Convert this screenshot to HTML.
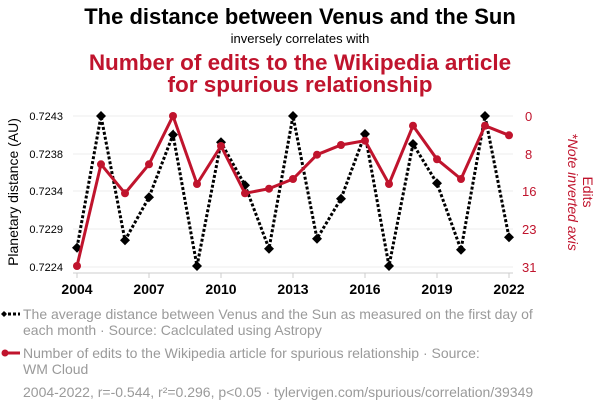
<!DOCTYPE html>
<html><head><style>body{margin:0;background:#fff}</style></head><body>
<svg width="600" height="414" xmlns="http://www.w3.org/2000/svg" font-family="Liberation Sans, sans-serif">
<text x="300" y="24" text-anchor="middle" font-size="22" font-weight="bold" fill="#000">The distance between Venus and the Sun</text>
<text x="300" y="43" text-anchor="middle" font-size="13" fill="#000">inversely correlates with</text>
<text x="300" y="70" text-anchor="middle" font-size="22.5" font-weight="bold" fill="#c0142d">Number of edits to the Wikipedia article</text>
<text x="300" y="92" text-anchor="middle" font-size="22.5" font-weight="bold" fill="#c0142d">for spurious relationship</text>
<g stroke="#eee" stroke-width="1">
<line x1="73" x2="513" y1="116" y2="116"/><line x1="73" x2="513" y1="154" y2="154"/><line x1="73" x2="513" y1="191" y2="191"/><line x1="73" x2="513" y1="229" y2="229"/><line x1="73" x2="513" y1="267" y2="267"/>
</g>
<g stroke="#ccc"><line x1="73" x2="513" y1="273" y2="273"/>
<line x1="77" x2="77" y1="273" y2="278"/><line x1="149" x2="149" y1="273" y2="278"/><line x1="221" x2="221" y1="273" y2="278"/><line x1="293" x2="293" y1="273" y2="278"/><line x1="365" x2="365" y1="273" y2="278"/><line x1="437" x2="437" y1="273" y2="278"/><line x1="509" x2="509" y1="273" y2="278"/></g>
<g font-size="14" font-weight="bold" text-anchor="middle" fill="#000">
<text x="77" y="294">2004</text><text x="149" y="294">2007</text><text x="221" y="294">2010</text><text x="293" y="294">2013</text><text x="365" y="294">2016</text><text x="437" y="294">2019</text><text x="509" y="294">2022</text></g>
<g font-size="11" text-anchor="end" fill="#000">
<text x="63" y="120">0.7243</text><text x="63" y="158">0.7238</text><text x="63" y="195">0.7234</text><text x="63" y="233">0.7229</text><text x="63" y="271">0.7224</text></g>
<g font-size="13" text-anchor="start" fill="#c0142d">
<text x="525" y="121">0</text><text x="525" y="159">8</text><text x="522" y="196">16</text><text x="522" y="234">23</text><text x="522" y="272">31</text></g>
<text transform="translate(18,192) rotate(-90)" text-anchor="middle" font-size="14" fill="#000">Planetary distance (AU)</text>
<text transform="translate(583,192) rotate(90)" text-anchor="middle" font-size="14" fill="#c0142d">Edits</text>
<text transform="translate(568,192) rotate(90)" text-anchor="middle" font-size="14" font-style="italic" fill="#c0142d">*Note inverted axis</text>
<polyline fill="none" stroke="#000" stroke-width="3" stroke-dasharray="3,2" points="77,247.7 101,116 125,240.3 149,197.3 173,134.7 197,266 221,142.3 245,185.3 269,248.7 293,116 317,238.7 341,198.7 365,134 389,266 413,144 437,183.3 461,249.7 485,116 509,237.3"/>
<g fill="#000">
<path d="M77,242.7l5,5l-5,5l-5,-5z"/><path d="M101,111l5,5l-5,5l-5,-5z"/><path d="M125,235.3l5,5l-5,5l-5,-5z"/><path d="M149,192.3l5,5l-5,5l-5,-5z"/><path d="M173,129.7l5,5l-5,5l-5,-5z"/><path d="M197,261l5,5l-5,5l-5,-5z"/><path d="M221,137.3l5,5l-5,5l-5,-5z"/><path d="M245,180.3l5,5l-5,5l-5,-5z"/><path d="M269,243.7l5,5l-5,5l-5,-5z"/><path d="M293,111l5,5l-5,5l-5,-5z"/><path d="M317,233.7l5,5l-5,5l-5,-5z"/><path d="M341,193.7l5,5l-5,5l-5,-5z"/><path d="M365,129l5,5l-5,5l-5,-5z"/><path d="M389,261l5,5l-5,5l-5,-5z"/><path d="M413,139l5,5l-5,5l-5,-5z"/><path d="M437,178.3l5,5l-5,5l-5,-5z"/><path d="M461,244.7l5,5l-5,5l-5,-5z"/><path d="M485,111l5,5l-5,5l-5,-5z"/><path d="M509,232.3l5,5l-5,5l-5,-5z"/>
</g>
<polyline fill="none" stroke="#c0142d" stroke-width="3" points="77,266 101,164.3 125,193.3 149,164.3 173,116 197,184 221,146 245,193.3 269,188.7 293,179 317,154.7 341,145 365,140.7 389,184 413,125.7 437,159.3 461,179 485,125.7 509,135.3"/>
<g fill="#c0142d">
<circle cx="77" cy="266" r="4"/><circle cx="101" cy="164.3" r="4"/><circle cx="125" cy="193.3" r="4"/><circle cx="149" cy="164.3" r="4"/><circle cx="173" cy="116" r="4"/><circle cx="197" cy="184" r="4"/><circle cx="221" cy="146" r="4"/><circle cx="245" cy="193.3" r="4"/><circle cx="269" cy="188.7" r="4"/><circle cx="293" cy="179" r="4"/><circle cx="317" cy="154.7" r="4"/><circle cx="341" cy="145" r="4"/><circle cx="365" cy="140.7" r="4"/><circle cx="389" cy="184" r="4"/><circle cx="413" cy="125.7" r="4"/><circle cx="437" cy="159.3" r="4"/><circle cx="461" cy="179" r="4"/><circle cx="485" cy="125.7" r="4"/><circle cx="509" cy="135.3" r="4"/>
</g>
<line x1="3" x2="20" y1="314" y2="314" stroke="#000" stroke-width="3" stroke-dasharray="3,2"/>
<path d="M4,311l3,3l-3,3l-3,-3z" fill="#000"/>
<line x1="4" x2="20" y1="353" y2="353" stroke="#c0142d" stroke-width="3"/>
<circle cx="5" cy="353" r="3.5" fill="#c0142d"/>
<g font-size="14" fill="#9a9a9a">
<text x="23" y="319">The average distance between Venus and the Sun as measured on the first day of</text>
<text x="23" y="335">each month · Source: Caclculated using Astropy</text>
<text x="23" y="358">Number of edits to the Wikipedia article for spurious relationship · Source:</text>
<text x="23" y="374">WM Cloud</text>
<text x="23" y="397">2004-2022, r=-0.544, r²=0.296, p&lt;0.05 · tylervigen.com/spurious/correlation/39349</text>
</g>
</svg>
</body></html>
